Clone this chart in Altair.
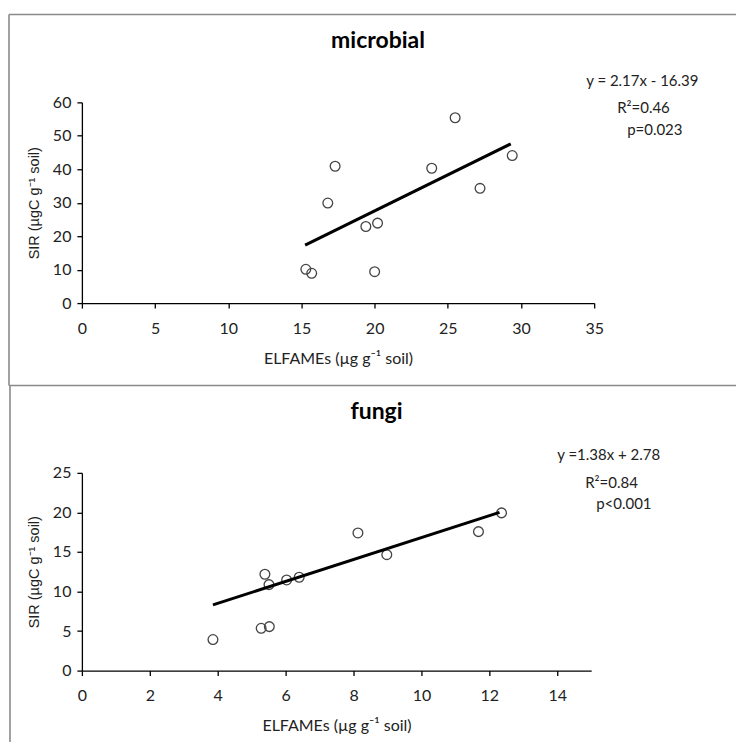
import altair as alt
import pandas as pd

# ---- data ----
micro_x = [15.3, 15.7, 16.8, 17.3, 19.4, 20.2, 20.0, 23.9, 25.5, 27.2, 29.4]
micro_y = [10.1, 8.9, 29.9, 40.9, 22.9, 23.9, 9.4, 40.3, 55.4, 34.3, 44.1]
micro_line_x = [15.25, 29.3]
micro_line_y = [17.3, 47.6]
micro_eq = ["y = 2.17x - 16.39", "R²=0.46", "p=0.023"]

fungi_x = [3.86, 5.28, 5.52, 5.39, 5.51, 6.03, 6.40, 8.13, 8.98, 11.68, 12.36]
fungi_y = [3.92, 5.35, 5.56, 12.18, 10.87, 11.46, 11.8, 17.4, 14.66, 17.57, 19.94]
fungi_line_x = [3.86, 12.3]
fungi_line_y = [8.3, 20.0]
fungi_eq = ["y =1.38x + 2.78", "R²=0.84", "p<0.001"]

x_title = "ELFAMEs (µg g⁻¹ soil)"
y_title = "SIR (µgC g⁻¹ soil)"

FONT = "Lato"
TXT = "#222222"


def panel(title, xs, ys, lx, ly, xdom, xstep, ydom, ystep, eq, eq_pos, w, h, border):
    pts = pd.DataFrame({"x": xs, "y": ys})
    ln = pd.DataFrame({"x": lx, "y": ly})
    xs_ = alt.Scale(domain=xdom, nice=False, zero=True)
    ys_ = alt.Scale(domain=ydom, nice=False, zero=True)
    xvals = list(range(xdom[0], xdom[1] + 1, xstep))
    yvals = list(range(ydom[0], ydom[1] + 1, ystep))
    xax = alt.Axis(values=xvals, title=x_title, grid=False, labelPadding=12,
                   labelFlush=False, labelOverlap=False,
                   titlePadding=14, titleFont=FONT, titleFontSize=16,
                   titleFontWeight="normal", titleColor=TXT)
    yax = alt.Axis(values=yvals, title=y_title, grid=False, labelPadding=6,
                   labelFlush=False, labelOverlap=False,
                   titlePadding=11, titleFont="Liberation Sans", titleFontSize=14.5,
                   titleFontWeight="normal", titleColor=TXT)
    base = alt.Chart(pts).mark_point(shape="circle", filled=False, size=95,
                                     stroke="#444444", strokeWidth=1.3, opacity=1).encode(
        x=alt.X("x:Q", scale=xs_, axis=xax),
        y=alt.Y("y:Q", scale=ys_, axis=yax),
    )
    line = alt.Chart(ln).mark_line(color="black", strokeWidth=3).encode(
        x=alt.X("x:Q", scale=xs_, axis=xax), y=alt.Y("y:Q", scale=ys_, axis=yax))
    layers = [base, line]
    # title
    layers.append(alt.Chart(pd.DataFrame({"t": [title]})).mark_text(
        font=FONT, fontSize=23, fontWeight="bold", color="black", align="center",
        baseline="middle").encode(text="t:N", x=alt.value(w / 2 + 40), y=alt.value(-61)))
    # equation text
    for s, (px, py) in zip(eq, eq_pos):
        layers.append(alt.Chart(pd.DataFrame({"t": [s]})).mark_text(
            font=FONT, fontSize=15, color=TXT, align="left", baseline="middle").encode(
            text="t:N", x=alt.value(px), y=alt.value(py)))
    # panel border (decoration)
    for (bx, bx2, by, by2) in border:
        layers.append(alt.Chart(pd.DataFrame({"a": [0]})).mark_rule(
            color="#8a8a8a", strokeWidth=1.6).encode(
            x=alt.value(bx), x2=alt.value(bx2), y=alt.value(by), y2=alt.value(by2)))
    return alt.layer(*layers).properties(width=w, height=h)


top = panel("microbial", micro_x, micro_y, micro_line_x, micro_line_y,
            [0, 35], 5, [0, 60], 10, micro_eq,
            [(505, -21), (536, 6), (546, 28)], 513, 201,
            [(-73, -73, -88, 283.5), (-73, 655, -88, -88), (-73, 655, 283.5, 283.5)])

bottom = panel("fungi", fungi_x, fungi_y, fungi_line_x, fungi_line_y,
               [0, 15], 2, [0, 25], 5, fungi_eq,
               [(476, -18), (504, 10), (515, 31)], 510, 198,
               [(-72, -72, -87, 270)])

chart = alt.vconcat(top, bottom, spacing=170, bounds="flush").properties(
    padding={"left": 8, "top": 13, "right": 0, "bottom": 0},
    background="white",
).configure_view(stroke=None).configure_axis(
    domainColor="black", tickColor="black", tickSize=5, domainWidth=1.3,
    tickWidth=1.3, labelFont=FONT, labelFontSize=16, labelColor=TXT,
).configure_axisX(labelAngle=0)

chart.save("out.html", embed_options={"renderer": "svg", "actions": False})
